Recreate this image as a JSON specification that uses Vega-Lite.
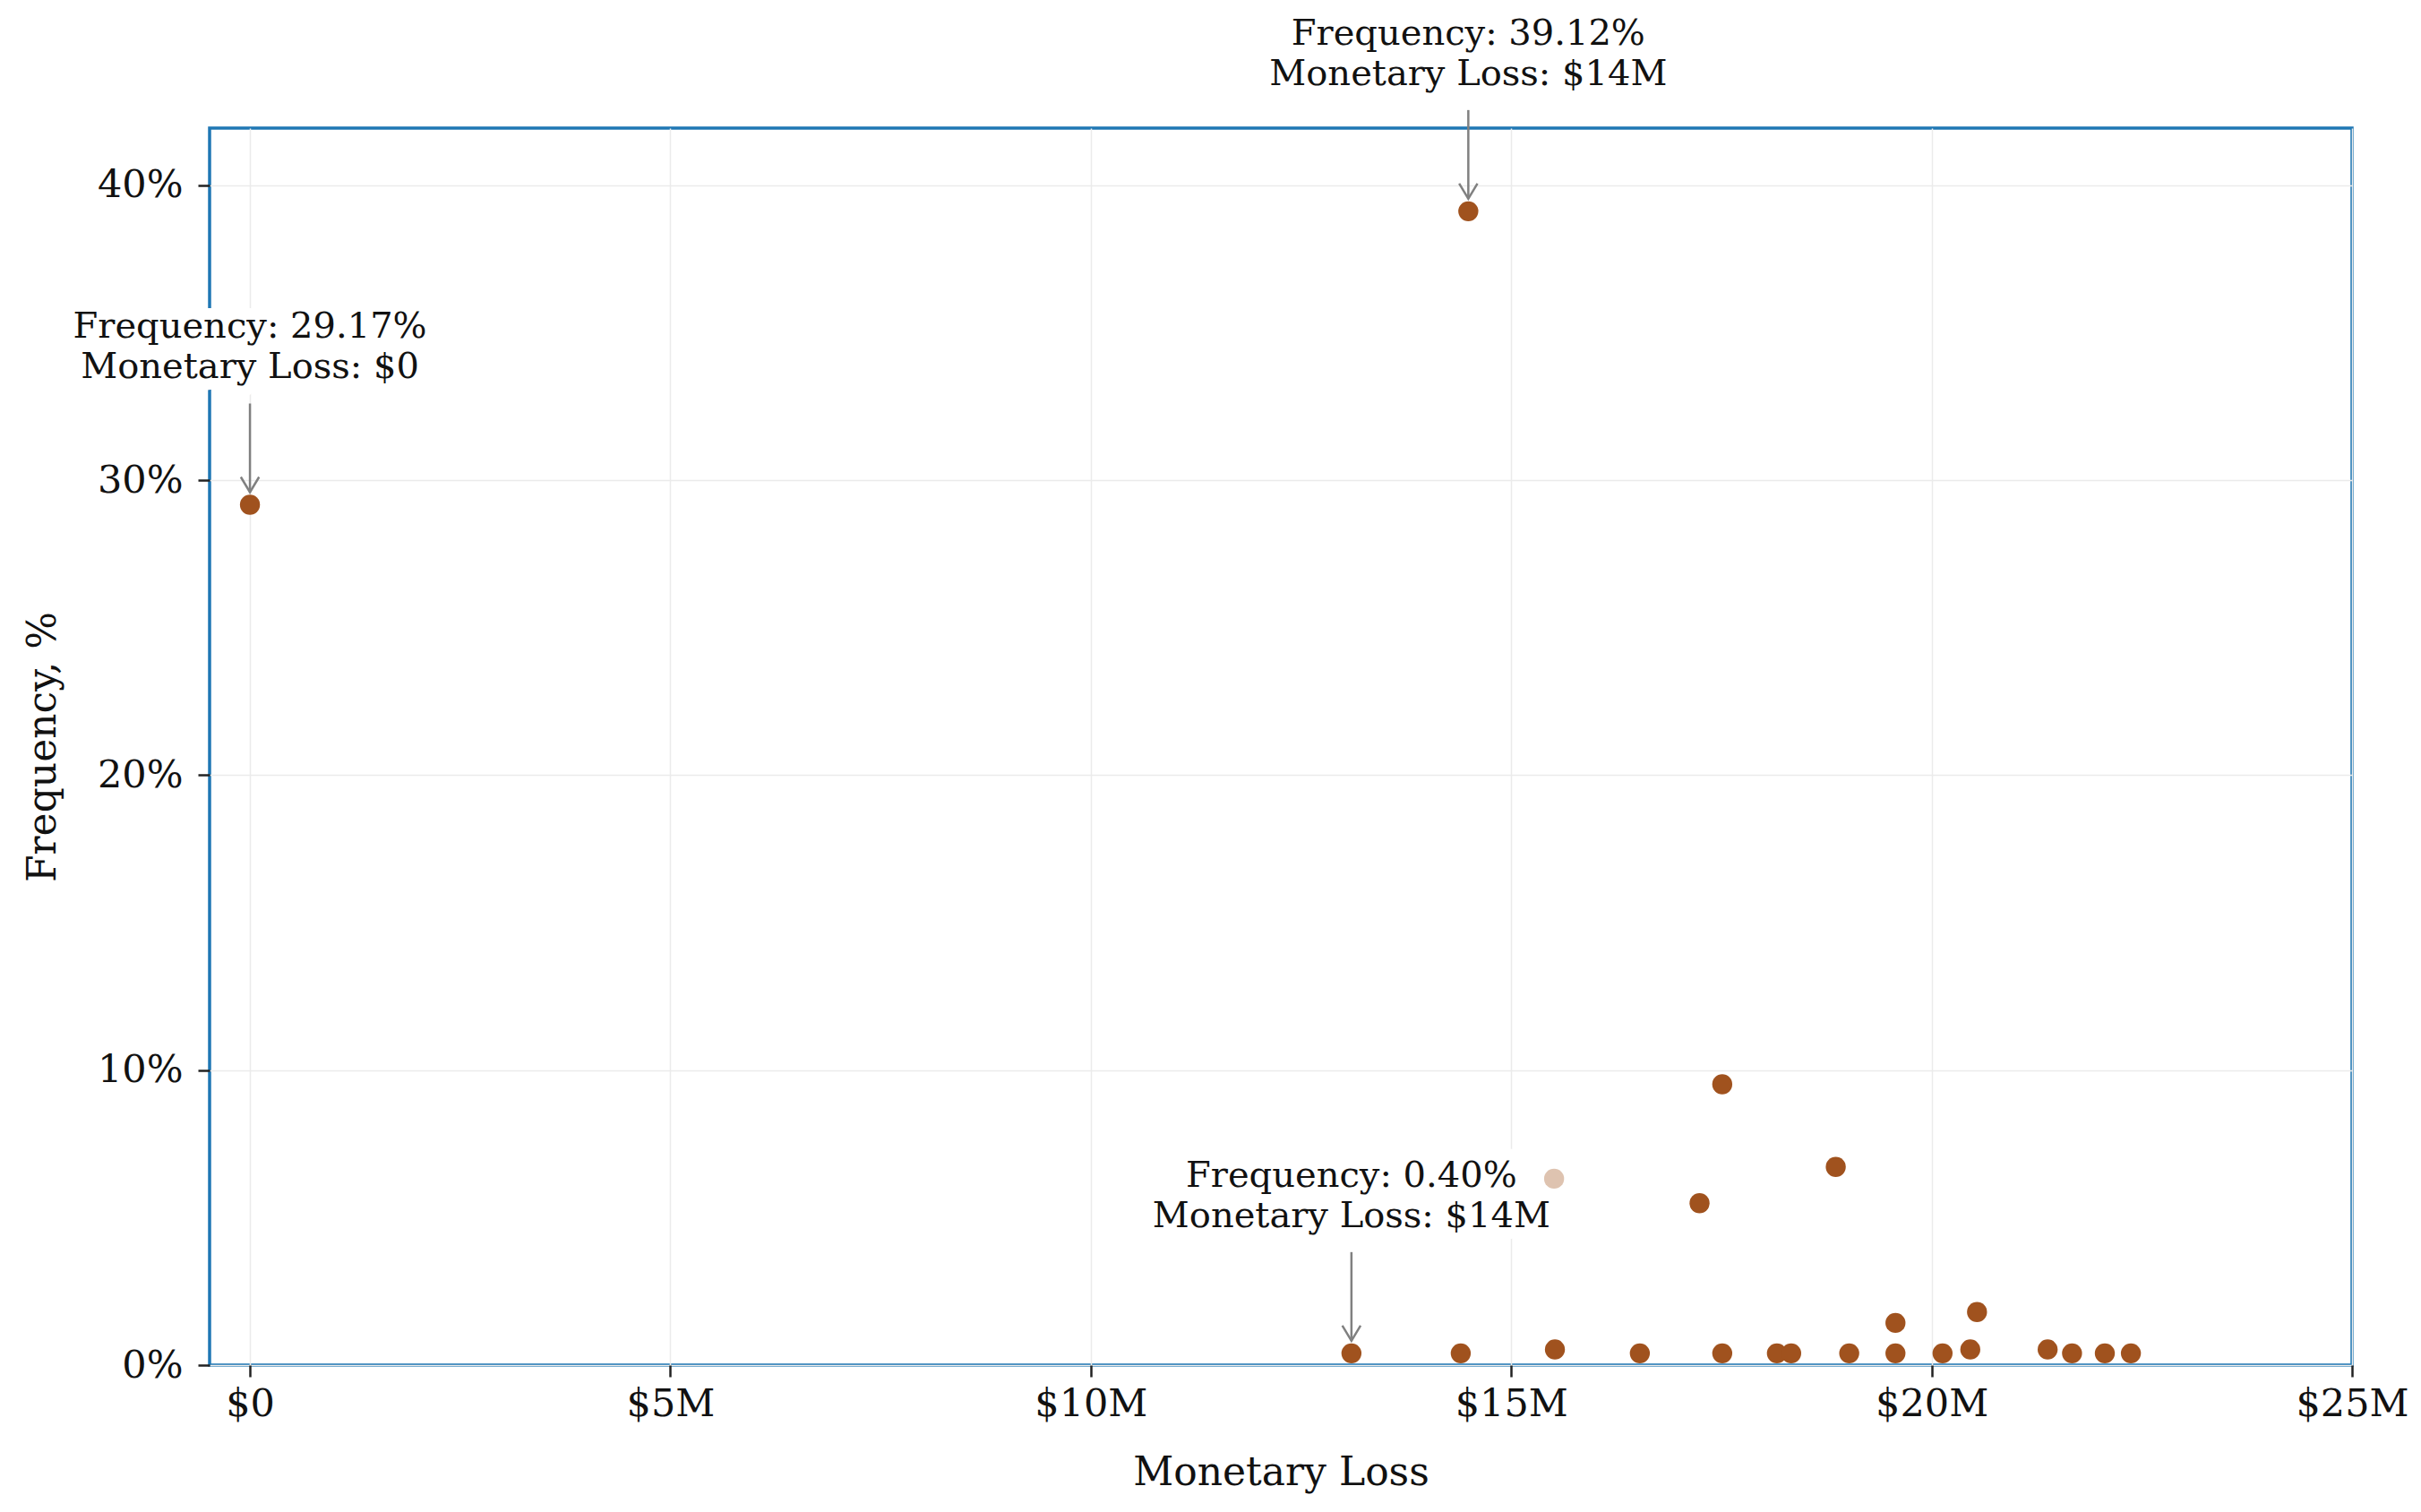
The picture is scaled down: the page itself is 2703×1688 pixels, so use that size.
{
  "$schema": "https://vega.github.io/schema/vega-lite/v6.json",
  "description": "Frequency vs monetary loss scatter with annotated points.",
  "autosize": {"type": "none"},
  "width": 2392,
  "height": 1381,
  "padding": {"left": 234, "top": 143, "right": 77, "bottom": 164},
  "background": "white",
  "data": {
    "values": [
      {"loss": 0, "freq": 0.2917, "kind": "normal", "note": ["Frequency: 29.17%", "Monetary Loss: $0"]},
      {"loss": 14490000, "freq": 0.3912, "kind": "normal", "note": ["Frequency: 39.12%", "Monetary Loss: $14M"]},
      {"loss": 13100000, "freq": 0.004, "kind": "normal", "note": ["Frequency: 0.40%", "Monetary Loss: $14M"]},
      {"loss": 14400000, "freq": 0.004, "kind": "normal"},
      {"loss": 15520000, "freq": 0.0053, "kind": "normal"},
      {"loss": 16530000, "freq": 0.004, "kind": "normal"},
      {"loss": 17510000, "freq": 0.004, "kind": "normal"},
      {"loss": 18160000, "freq": 0.004, "kind": "normal"},
      {"loss": 18330000, "freq": 0.004, "kind": "normal"},
      {"loss": 19020000, "freq": 0.004, "kind": "normal"},
      {"loss": 19570000, "freq": 0.004, "kind": "normal"},
      {"loss": 20130000, "freq": 0.004, "kind": "normal"},
      {"loss": 20460000, "freq": 0.0053, "kind": "normal"},
      {"loss": 21380000, "freq": 0.0053, "kind": "normal"},
      {"loss": 21670000, "freq": 0.004, "kind": "normal"},
      {"loss": 22060000, "freq": 0.004, "kind": "normal"},
      {"loss": 22370000, "freq": 0.004, "kind": "normal"},
      {"loss": 19570000, "freq": 0.0143, "kind": "normal"},
      {"loss": 20540000, "freq": 0.018, "kind": "normal"},
      {"loss": 17510000, "freq": 0.0952, "kind": "normal"},
      {"loss": 18860000, "freq": 0.0672, "kind": "normal"},
      {"loss": 17240000, "freq": 0.0549, "kind": "normal"},
      {"loss": 15510000, "freq": 0.0632, "kind": "faded"}
    ]
  },
  "encoding": {
    "x": {
      "field": "loss",
      "type": "quantitative",
      "scale": {"domain": [-480000, 25000000], "nice": false, "zero": false},
      "axis": {
        "title": "Monetary Loss",
        "values": [0, 5000000, 10000000, 15000000, 20000000, 25000000],
        "labelExpr": "datum.value == 0 ? '$0' : '$' + format(datum.value / 1000000, 'd') + 'M'",
        "labelFlush": false,
        "labelPadding": 9,
        "titleY": 133,
        "titleBaseline": "alphabetic"
      }
    },
    "y": {
      "field": "freq",
      "type": "quantitative",
      "scale": {"domain": [0, 0.4194], "nice": false},
      "axis": {
        "title": "Frequency, %",
        "values": [0, 0.1, 0.2, 0.3, 0.4],
        "format": ".0%",
        "labelFlush": false,
        "labelPadding": 17,
        "titleX": -186,
        "titleBaseline": "middle"
      }
    }
  },
  "layer": [
    {
      "mark": {"type": "circle", "size": 500, "color": "#a0521e"},
      "encoding": {
        "opacity": {
          "field": "kind",
          "type": "nominal",
          "scale": {"domain": ["normal", "faded"], "range": [1, 0.35]},
          "legend": null
        }
      }
    },
    {
      "transform": [{"filter": "isValid(datum.note)"}],
      "mark": {
        "type": "text",
        "font": "DejaVu Serif",
        "fontSize": 40,
        "lineHeight": 45,
        "align": "center",
        "baseline": "middle",
        "dy": -198,
        "color": "white",
        "stroke": "white",
        "strokeWidth": 26,
        "strokeJoin": "round"
      },
      "encoding": {"text": {"field": "note"}}
    },
    {
      "transform": [{"filter": "isValid(datum.note)"}],
      "mark": {
        "type": "rule",
        "color": "#808080",
        "strokeWidth": 2.5,
        "yOffset": -113,
        "y2Offset": -14
      },
      "encoding": {"y2": {"field": "freq"}}
    },
    {
      "transform": [{"filter": "isValid(datum.note)"}],
      "mark": {
        "type": "point",
        "shape": "M-0.6,-1L0,0L0.6,-1",
        "size": 1156,
        "filled": false,
        "opacity": 1,
        "color": "#808080",
        "strokeWidth": 2.5,
        "yOffset": -14
      }
    },
    {
      "transform": [{"filter": "isValid(datum.note)"}],
      "mark": {
        "type": "text",
        "font": "DejaVu Serif",
        "fontSize": 40,
        "lineHeight": 45,
        "align": "center",
        "baseline": "middle",
        "dy": -198,
        "color": "#111111"
      },
      "encoding": {"text": {"field": "note"}}
    }
  ],
  "config": {
    "font": "DejaVu Serif",
    "view": {"stroke": "#1f77b4", "strokeWidth": 3.5},
    "axis": {
      "grid": true,
      "gridColor": "#ebebeb",
      "gridWidth": 1.5,
      "domain": false,
      "tickColor": "#222222",
      "tickSize": 13,
      "tickWidth": 2.5,
      "labelFont": "DejaVu Serif",
      "labelFontSize": 43,
      "labelColor": "#111111",
      "titleFont": "DejaVu Serif",
      "titleFontSize": 44,
      "titleFontWeight": "normal",
      "titleColor": "#111111"
    }
  }
}
